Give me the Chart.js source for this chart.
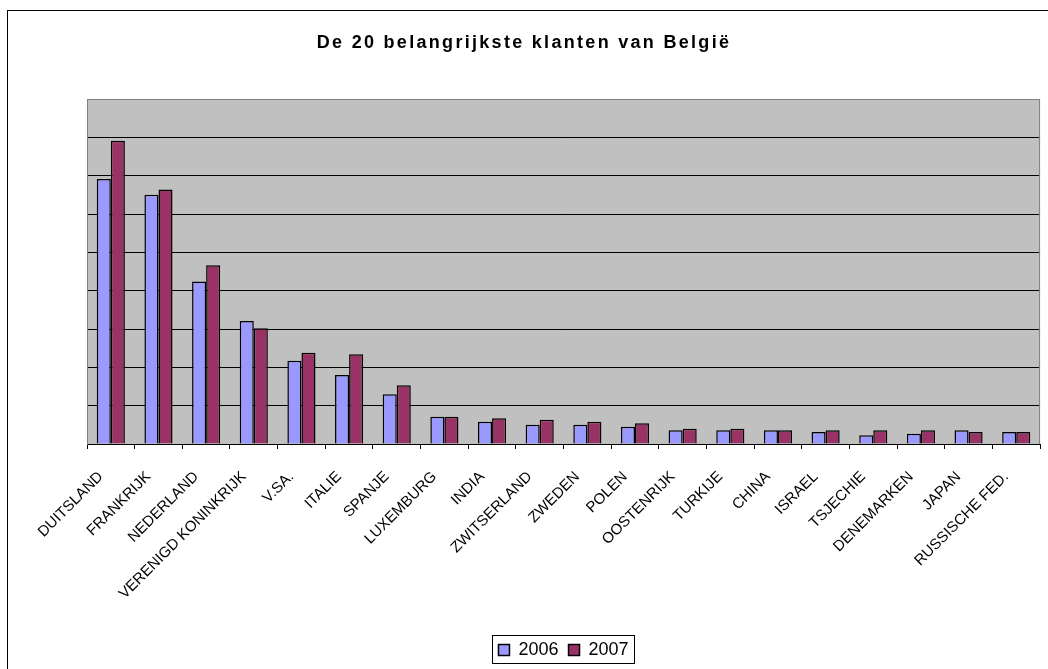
<!DOCTYPE html>
<html>
<head>
<meta charset="utf-8">
<script src="https://cdn.jsdelivr.net/npm/chart.js@4"></script>
<style>
  body { margin: 0; background: #fff; overflow: hidden; }
  #wrap { position: relative; width: 1048px; height: 669px; }
  #kader { position: absolute; left: 7px; top: 10px; width: 1050px; height: 700px; border: 1px solid #000; pointer-events: none; }
  canvas { position: absolute; left: 0; top: 0; }
</style>
</head>
<body>
<div id="wrap">
  <canvas id="klanten" width="1048" height="669"></canvas>
  <div id="kader"></div>
</div>
<script>
var titel = 'De 20 belangrijkste klanten van België';

var landen = ['DUITSLAND', 'FRANKRIJK', 'NEDERLAND', 'VERENIGD KONINKRIJK', 'V.SA.', 'ITALIE', 'SPANJE',
  'LUXEMBURG', 'INDIA', 'ZWITSERLAND', 'ZWEDEN', 'POLEN', 'OOSTENRIJK', 'TURKIJE', 'CHINA', 'ISRAEL',
  'TSJECHIE', 'DENEMARKEN', 'JAPAN', 'RUSSISCHE FED.'];

var jaren = ['2006', '2007'];

// geschat uit de figuur (1 rasterlijn = 10)
var waarden2006 = [69.1, 65.0, 42.4, 32.1, 21.7, 18.0, 13.0, 7.1, 5.8, 5.0, 5.0, 4.5, 3.6, 3.6, 3.6, 3.1, 2.3, 2.7, 3.6, 3.1];
var waarden2007 = [79.1, 66.4, 46.6, 30.2, 23.8, 23.4, 15.3, 7.1, 6.7, 6.3, 5.8, 5.4, 4.0, 4.0, 3.6, 3.6, 3.6, 3.6, 3.1, 3.1];

var yTicks = [0, 10, 20, 30, 40, 50, 60, 70, 80, 90];

Chart.defaults.font.family = '"Liberation Sans", Arial, sans-serif';
Chart.defaults.color = '#000';

// grijs plotvlak, rechterrand, titel en kader rond legende
const excelStijl = {
  id: 'excelStijl',
  beforeDraw(chart) {
    const { ctx, chartArea: a } = chart;
    ctx.save();
    ctx.fillStyle = '#c0c0c0';
    ctx.fillRect(a.left, a.top, a.right - a.left, a.bottom - a.top);
    ctx.restore();
  },
  afterDraw(chart) {
    const { ctx, chartArea: a } = chart;
    ctx.save();
    ctx.strokeStyle = '#808080';
    ctx.lineWidth = 1;
    ctx.beginPath();
    ctx.moveTo(a.right - 0.5, a.top);
    ctx.lineTo(a.right - 0.5, a.bottom);
    ctx.stroke();

    // titel
    ctx.fillStyle = '#000';
    ctx.font = 'bold 18px "Liberation Sans", Arial, sans-serif';
    ctx.letterSpacing = '2.3px';
    ctx.textAlign = 'left';
    ctx.textBaseline = 'middle';
    const w = ctx.measureText(titel).width;
    ctx.fillText(titel, 524 - w / 2, 43);
    ctx.letterSpacing = '0px';

    // kader legende
    const hb = chart.legend.legendHitBoxes;
    if (hb && hb.length) {
      const last = hb[hb.length - 1];
      const l = hb[0].left - 6;
      const r = last.left + last.width + 6;
      const t = hb[0].top - 6;
      const h = hb[0].height + 10;
      ctx.strokeStyle = '#000';
      ctx.strokeRect(Math.round(l) + 0.5, Math.round(t) + 0.5, Math.round(r - l), Math.round(h));
    }
    ctx.restore();
  }
};

new Chart(document.getElementById('klanten'), {
  type: 'bar',
  data: {
    labels: landen,
    datasets: [{
      label: jaren[0],
      data: waarden2006,
      backgroundColor: '#9999ff',
      borderColor: '#000',
      borderWidth: 1.5,
      categoryPercentage: 0.59,
      barPercentage: 1
    }, {
      label: jaren[1],
      data: waarden2007,
      backgroundColor: '#993366',
      borderColor: '#000',
      borderWidth: 1.5,
      categoryPercentage: 0.59,
      barPercentage: 1
    }]
  },
  options: {
    responsive: false,
    animation: false,
    layout: { padding: { top: 99, left: 0, right: 2, bottom: 0 } },
    plugins: {
      title: { display: false },
      tooltip: { enabled: false },
      legend: {
        position: 'bottom',
        fullSize: false,
        labels: { boxWidth: 11, boxHeight: 11, padding: 10, color: '#000', font: { size: 18 } }
      }
    },
    scales: {
      x: {
        grid: { drawOnChartArea: false, color: '#000', tickLength: 5 },
        border: { color: '#000' },
        ticks: {
          autoSkip: false, minRotation: 45, maxRotation: 45, padding: 19, labelOffset: -10, color: '#000',
          font: { size: 15 }
        },
        afterFit(scale) { scale.height = 187; }
      },
      y: {
        min: yTicks[0],
        max: yTicks[yTicks.length - 1],
        afterBuildTicks(scale) { scale.ticks = yTicks.map(v => ({ value: v })); },
        ticks: { display: false },
        grid: {
          drawTicks: false,
          color: c => (c.tick && c.tick.value === 90) ? '#808080' : '#000'
        },
        border: { color: '#808080' },
        afterFit(scale) { scale.width = 87; }
      }
    }
  },
  plugins: [excelStijl]
});
</script>
</body>
</html>
